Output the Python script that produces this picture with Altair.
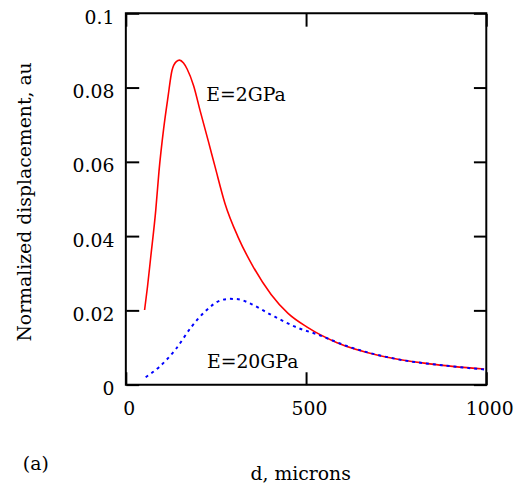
import altair as alt
import pandas as pd

# E = 2 GPa (red, solid)
red_d = [52, 60, 69, 83, 92, 105, 117, 128, 140, 149, 160, 170, 188, 206, 229, 248, 275, 312, 353, 403, 450, 503, 586, 705, 843, 994]
red_y = [0.0201, 0.0263, 0.0343, 0.0470, 0.0575, 0.0690, 0.0775, 0.0846, 0.0870, 0.0874, 0.0866, 0.0850, 0.0805, 0.0738, 0.0655, 0.0585, 0.0488, 0.0396, 0.0318, 0.0243, 0.0192, 0.0155, 0.0113, 0.0078, 0.0056, 0.0042]

# E = 20 GPa (blue, dotted)
blue_d = [55, 92, 138, 183, 220, 266, 290, 312, 348, 403, 477, 532, 613, 751, 889, 994]
blue_y = [0.0020, 0.0047, 0.0095, 0.0157, 0.0197, 0.0228, 0.0231, 0.0230, 0.0217, 0.0188, 0.0153, 0.0135, 0.0104, 0.0069, 0.0051, 0.0041]

x_ticks = [0, 500, 1000]
y_ticks = [0, 0.02, 0.04, 0.06, 0.08, 0.1]

label_text = ["E=2GPa", "E=20GPa"]
label_d = [223, 225]
label_y = [0.0781, 0.0061]

FONT = "DejaVu Serif"
FS = 19
W, H = 364, 375
TL = 13

red_df = pd.DataFrame({"d": red_d, "v": red_y})
blue_df = pd.DataFrame({"d": blue_d, "v": blue_y})
lab_df = pd.DataFrame({"d": label_d, "v": label_y, "t": label_text})

xs = alt.Scale(domain=[0, 1000], nice=False, zero=False)
ys = alt.Scale(domain=[0, 0.1], nice=False, zero=False)

tick_style = dict(grid=False, domain=False, ticks=True, tickSize=TL, tickWidth=2, tickColor="black", offset=-TL)

x_axis = alt.Axis(values=x_ticks, format="d", labelFlush=False, **tick_style,
                  labelFont=FONT, labelFontSize=FS, labelColor="black", labelPadding=24, labelOffset=3,
                  labelBaseline="middle",
                  title="d, microns", titleFont=FONT, titleFontSize=FS, titleFontWeight="normal",
                  titleColor="black", titleX=176, titleY=90 + TL, titleBaseline="middle", titleAlign="center")
y_axis = alt.Axis(values=y_ticks, labelExpr="datum.value == 0 ? '0' : format(datum.value, '.2~f')",
                  labelFlush=False, **tick_style,
                  labelFont=FONT, labelFontSize=FS, labelColor="black", labelPadding=12, labelOffset=4,
                  labelBaseline="middle",
                  title="Normalized displacement, au", titleFont=FONT, titleFontSize=FS,
                  titleFontWeight="normal", titleColor="black", titleX=-102 - TL, titleY=190,
                  titleBaseline="middle", titleAlign="center")
x_axis_top = alt.Axis(orient="top", values=x_ticks, labels=False, title=None, **tick_style)
y_axis_right = alt.Axis(orient="right", values=y_ticks, labels=False, title=None, **tick_style)

red = alt.Chart(red_df).mark_line(color="#ff0000", strokeWidth=1.6, interpolate="monotone").encode(
    x=alt.X("d:Q", scale=xs, axis=x_axis),
    y=alt.Y("v:Q", scale=ys, axis=y_axis),
)
blue = alt.Chart(blue_df).mark_line(color="#0000ff", strokeWidth=2, strokeDash=[3, 4], interpolate="monotone").encode(
    x=alt.X("d:Q", scale=xs, axis=x_axis_top),
    y=alt.Y("v:Q", scale=ys, axis=y_axis_right),
)
labels = alt.Chart(lab_df).mark_text(font=FONT, fontSize=FS, align="left", baseline="middle", color="black").encode(
    x=alt.X("d:Q", scale=xs, axis=None),
    y=alt.Y("v:Q", scale=ys, axis=None),
    text="t:N",
)
panel = alt.Chart(pd.DataFrame({"t": ["(a)"]})).mark_text(font=FONT, fontSize=FS, align="left", baseline="middle", color="black").encode(
    x=alt.value(-104), y=alt.value(455), text="t:N")

chart = alt.layer(red, blue, labels, panel).resolve_axis(x="independent", y="independent").properties(
    width=W, height=H,
    autosize=alt.AutoSizeParams(type="none"),
    padding={"left": 119, "top": 3, "right": 30, "bottom": 99},
    background="white",
).configure_view(stroke="black", strokeWidth=2)

chart.save("out.html", embed_options={"renderer": "svg", "actions": False})
